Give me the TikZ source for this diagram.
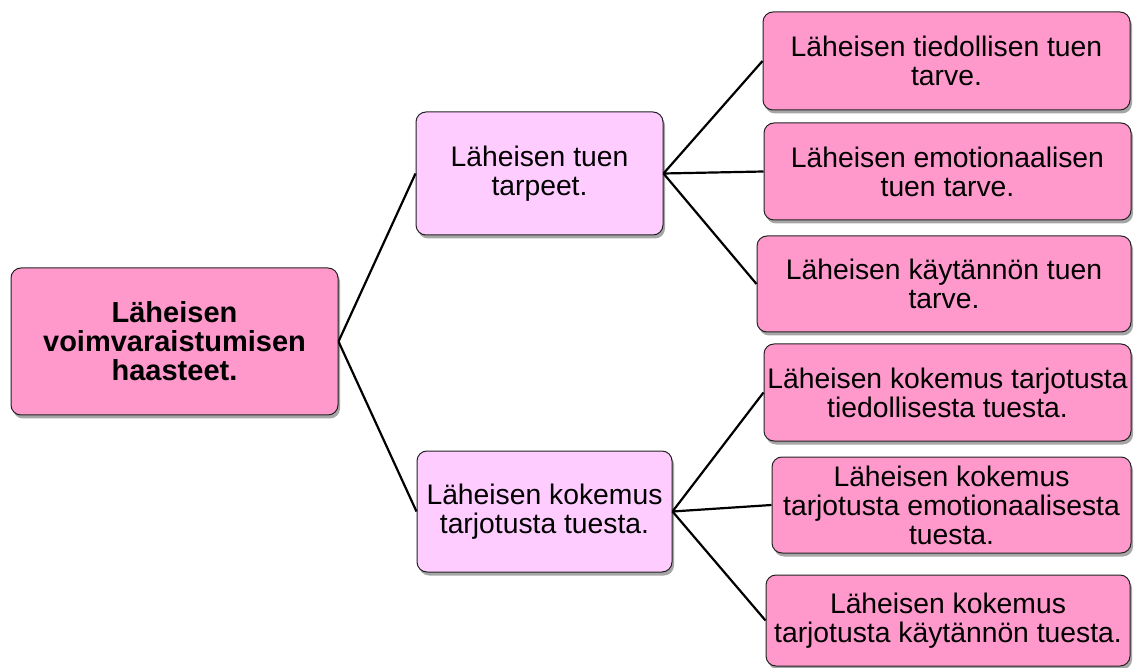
\documentclass[tikz,border=0pt]{standalone}
\usepackage{fontspec}
\setmainfont{Liberation Sans}
\usetikzlibrary{shadows}
\definecolor{leafpink}{HTML}{FF99CC}
\definecolor{midpink}{HTML}{FFCCFF}
\definecolor{edgegray}{HTML}{222222}
\tikzset{
  box/.style={draw=edgegray, line width=1pt, rounded corners=10pt, align=center,
    inner sep=2pt, font=\fontsize{28.3}{29}\selectfont,
    drop shadow={shadow xshift=2pt, shadow yshift=-3.5pt, fill=black, opacity=0.35}},
  leafbox/.style={box, fill=leafpink},
  midbox/.style={box, fill=midpink},
  link/.style={line width=2.2pt, black}
}
\begin{document}
\begin{tikzpicture}[x=1pt,y=-1pt]
\useasboundingbox (0,0) rectangle (1136,668);
\node[leafbox, minimum width=327pt, minimum height=147pt, font=\fontsize{29}{29}\selectfont\bfseries] (root) at (174.5,341.5) {Läheisen\\voimvaraistumisen\\haasteet.};
\node[midbox, minimum width=247pt, minimum height=123pt] (mid1) at (539.5,173.5) {Läheisen tuen\\tarpeet.};
\node[midbox, minimum width=255pt, minimum height=121pt] (mid2) at (544.5,511.5) {Läheisen kokemus\\tarjotusta tuesta.};
\node[leafbox, minimum width=367pt, minimum height=98pt] (l1) at (946.5,61) {Läheisen tiedollisen tuen\\tarve.};
\node[leafbox, minimum width=367pt, minimum height=97pt] (l2) at (947.5,171.5) {Läheisen emotionaalisen\\tuen tarve.};
\node[leafbox, minimum width=374pt, minimum height=96pt] (l3) at (944,284) {Läheisen käytännön tuen\\tarve.};
\node[leafbox, minimum width=367pt, minimum height=97pt] (l4) at (947.5,392.5) {Läheisen kokemus tarjotusta\\tiedollisesta tuesta.};
\node[leafbox, minimum width=359pt, minimum height=96pt] (l5) at (951.5,505) {Läheisen kokemus\\tarjotusta emotionaalisesta\\tuesta.};
\node[leafbox, minimum width=364pt, minimum height=91pt] (l6) at (948,620.5) {Läheisen kokemus\\tarjotusta käytännön tuesta.};
\draw[link] (root.east) -- (mid1.west);
\draw[link] (root.east) -- (mid2.west);
\draw[link] (mid1.east) -- (l1.west);
\draw[link] (mid1.east) -- (l2.west);
\draw[link] (mid1.east) -- (l3.west);
\draw[link] (mid2.east) -- (l4.west);
\draw[link] (mid2.east) -- (l5.west);
\draw[link] (mid2.east) -- (l6.west);
\end{tikzpicture}
\end{document}
